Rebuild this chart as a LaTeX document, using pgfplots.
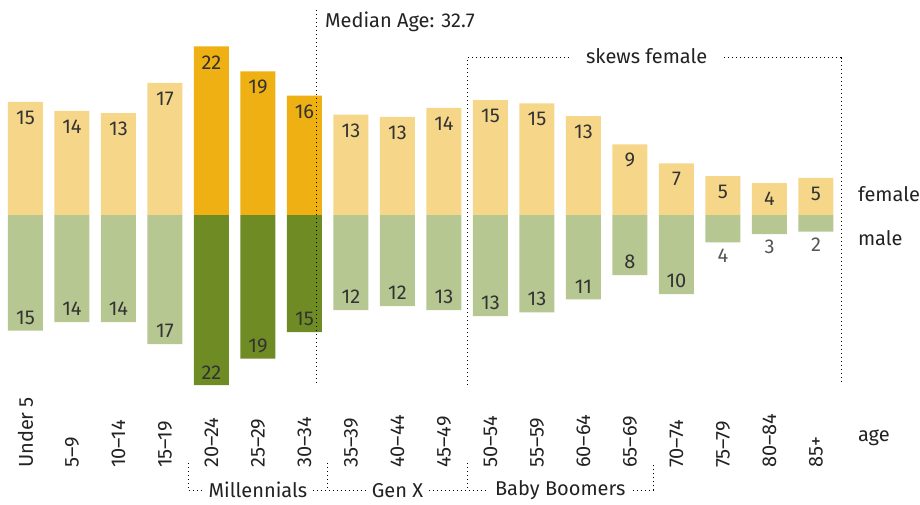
\documentclass[border=0pt]{standalone}
\usepackage{fontspec}
\setmainfont{Fira Sans}
\usepackage{pgfplots}
\pgfplotsset{compat=1.18}

\definecolor{femlight}{HTML}{F6D78A}
\definecolor{femdark}{HTML}{EEB012}
\definecolor{malelight}{HTML}{B6C792}
\definecolor{maledark}{HTML}{6E8B24}
\definecolor{txt}{HTML}{222222}
\definecolor{numtxt}{HTML}{333333}
\definecolor{graytxt}{HTML}{555555}
\newcommand\fs{\fontsize{20}{23}\selectfont}

\begin{document}
\begin{tikzpicture}
\begin{axis}[
    x=46.5pt, y=7.6pt,
    xmin=-0.5, xmax=17.5,
    ymin=-33.3, ymax=24,
    clip=false,
    axis line style={draw=none},
    major tick length=0pt,
    ytick=\empty,
    xtick={0,...,17},
    xticklabels={Under 5,5--9,10--14,15--19,20--24,25--29,30--34,35--39,40--44,45--49,50--54,55--59,60--64,65--69,70--74,75--79,80--84,85+},
    xticklabel style={rotate=90, anchor=west, inner sep=0pt, font=\fs, text=txt},
    ybar, bar width=35pt, bar shift=0pt,
    point meta=explicit symbolic,
    every node near coord/.append style={font=\fs, anchor=center},
]
% female
\addplot[fill=femlight, draw=none, nodes near coords,
  nodes near coords style={text=numtxt, yshift=-16pt}] coordinates {
  (0,14.9) [15] (1,13.7) [14] (2,13.4) [13] (3,17.4) [17]
  (7,13.2) [13] (8,12.9) [13] (9,14.1) [14] (10,15.1) [15]
  (11,14.7) [15] (12,13.0) [13] (13,9.3) [9] (14,6.8) [7]
  (15,5.1) [5] (16,4.2) [4] (17,4.9) [5]};
\addplot[fill=femdark, draw=none, nodes near coords,
  nodes near coords style={text=numtxt, yshift=-16pt}] coordinates {
  (4,22.2) [22] (5,18.9) [19] (6,15.7) [16]};
% male
\addplot[fill=malelight, draw=none, nodes near coords,
  nodes near coords style={text=numtxt, yshift=13pt}] coordinates {
  (0,-15.2) [15] (1,-14.1) [14] (2,-14.1) [14] (3,-17.0) [17]
  (7,-12.5) [12] (8,-12.0) [12] (9,-12.5) [13] (10,-13.3) [13]
  (11,-12.8) [13] (12,-11.1) [11] (13,-7.9) [8] (14,-10.4) [10]};
\addplot[fill=malelight, draw=none, nodes near coords,
  nodes near coords style={text=graytxt, yshift=-13pt}] coordinates {
  (15,-3.6) [4] (16,-2.5) [3] (17,-2.2) [2]};
\addplot[fill=maledark, draw=none, nodes near coords,
  nodes near coords style={text=numtxt, yshift=13pt}] coordinates {
  (4,-22.4) [22] (5,-18.9) [19] (6,-15.4) [15]};

% annotations
\draw[line width=1pt, dash pattern=on 1pt off 3pt] (axis cs:6.25,26.97) -- (axis cs:6.25,-22.37);
\node[font=\fs, text=txt, anchor=west, inner sep=0pt] at (axis cs:6.44,25.4) {Median Age: 32.7};

\draw[line width=1pt, dash pattern=on 1pt off 3pt] (axis cs:9.5,-22.37) -- (axis cs:9.5,20.66) -- (axis cs:17.54,20.66) -- (axis cs:17.54,-22.37);
\node[font=\fs, text=txt, fill=white, inner xsep=14pt, inner ysep=2pt] at (axis cs:13.36,20.9) {skews female};

\node[font=\fs, text=txt, anchor=west, inner sep=0pt] at (axis cs:17.9,2.76) {female};
\node[font=\fs, text=txt, anchor=west, inner sep=0pt] at (axis cs:17.9,-3.03) {male};
\node[font=\fs, text=txt, anchor=west, inner sep=0pt] at (axis cs:17.9,-29.3) {age};

\draw[line width=1pt, dash pattern=on 1pt off 3pt] (axis cs:3.5,-32.6) -- (axis cs:3.5,-36.2) -- (axis cs:13.5,-36.2) -- (axis cs:13.5,-32.6);
\draw[line width=1pt, dash pattern=on 1pt off 3pt] (axis cs:6.5,-32.6) -- (axis cs:6.5,-36.2);
\draw[line width=1pt, dash pattern=on 1pt off 3pt] (axis cs:9.5,-32.6) -- (axis cs:9.5,-36.2);
\node[font=\fs, text=txt, fill=white, inner xsep=6pt, inner ysep=0pt] at (axis cs:5,-36.2) {Millennials};
\node[font=\fs, text=txt, fill=white, inner xsep=6pt, inner ysep=0pt] at (axis cs:8,-36.2) {Gen X};
\node[font=\fs, text=txt, fill=white, inner xsep=6pt, inner ysep=0pt] at (axis cs:11.5,-36.2) {Baby Boomers};

\coordinate (bbl) at (axis cs:-0.548,-38.03);
\coordinate (btr) at (axis cs:19.237,28.29);
\end{axis}
\pgfresetboundingbox
\path (bbl) rectangle (btr);
\end{tikzpicture}
\end{document}
